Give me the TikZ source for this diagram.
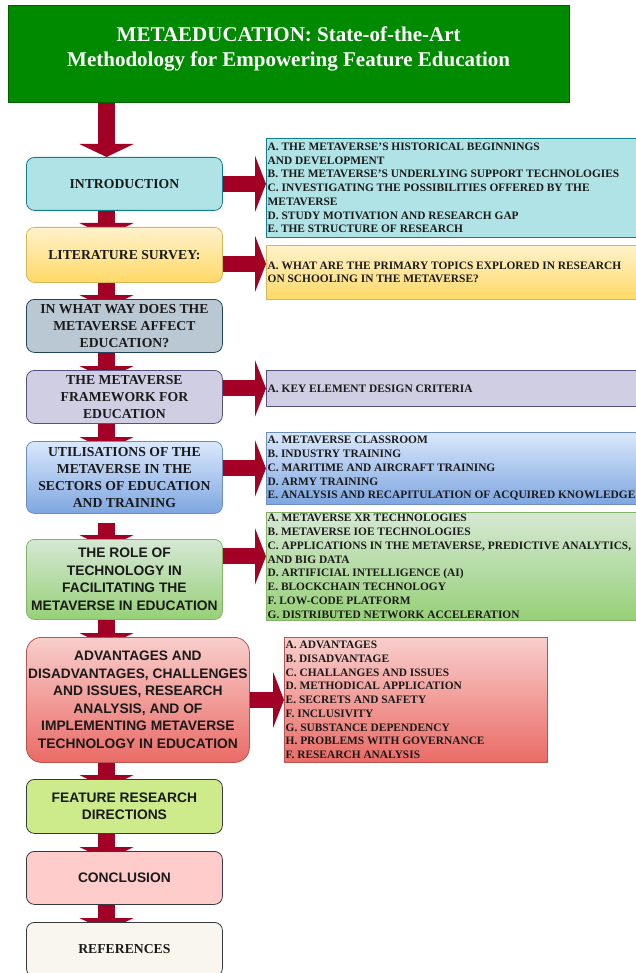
\documentclass[tikz,border=0pt]{standalone}
\usepackage{fontspec}
\setmainfont{Liberation Serif}
\newfontfamily\arialfont{Liberation Sans}
\usetikzlibrary{arrows.meta,backgrounds}

\definecolor{arrowred}{HTML}{A20025}
\definecolor{titlegreen}{HTML}{008A00}
\definecolor{textdark}{HTML}{1A1A1A}
\definecolor{introFill}{HTML}{B0E3E6}
\definecolor{introDraw}{HTML}{0E8088}
\definecolor{litTop}{HTML}{FFF2CC}
\definecolor{litBot}{HTML}{FFD966}
\definecolor{litDraw}{HTML}{D6B656}
\definecolor{wayFill}{HTML}{BAC8D3}
\definecolor{wayDraw}{HTML}{23445D}
\definecolor{frameFill}{HTML}{D0CEE2}
\definecolor{frameDraw}{HTML}{56517E}
\definecolor{utilTop}{HTML}{DAE8FC}
\definecolor{utilBot}{HTML}{7EA6E0}
\definecolor{utilDraw}{HTML}{6C8EBF}
\definecolor{roleTop}{HTML}{D5E8D4}
\definecolor{roleBot}{HTML}{97D077}
\definecolor{roleDraw}{HTML}{82B366}
\definecolor{advTop}{HTML}{F8CECC}
\definecolor{advBot}{HTML}{EA6B66}
\definecolor{advDraw}{HTML}{B85450}
\definecolor{featFill}{HTML}{CDEB8B}
\definecolor{greyDraw}{HTML}{36393D}
\definecolor{conclFill}{HTML}{FFCCCC}
\definecolor{refFill}{HTML}{F9F7ED}

\newcommand{\serifbox}{\bfseries\fontsize{13.7}{16.8}\selectfont}
\newcommand{\sansbox}{\arialfont\bfseries\fontsize{13.8}{17.5}\selectfont}
\newcommand{\detailfont}{\bfseries\fontsize{11.4}{13.75}\selectfont}

\tikzset{
  lbox/.style={draw, rounded corners=8pt, line width=0.8pt, anchor=north west,
    minimum width=196pt, align=center, inner sep=0pt, text=textdark},
  dbox/.style={draw, line width=0.8pt, anchor=north west, inner sep=0pt},
  dtext/.style={anchor=west, align=left, inner xsep=1.5pt, inner ysep=0pt,
    font=\detailfont, text=textdark},
  varrow/.style={draw=arrowred, line width=17pt,
    -{Triangle[width=54pt,length=13pt]}},
  varrowin/.style={varrow, shorten >=-9pt},
  harrow/.style={draw=arrowred, line width=16pt,
    -{Triangle[width=56pt,length=11pt]}},
}

\begin{document}
\begin{tikzpicture}[x=1pt,y=-1pt]
\useasboundingbox (0,0) rectangle (636,973);

% title banner
\node[draw=titlegreen!70!black, fill=titlegreen, anchor=north west,
  minimum width=561pt, minimum height=97pt, inner sep=0pt] (title) at (8,5) {};
\node[text=white, align=center, font=\bfseries\fontsize{21}{25}\selectfont]
  (titleT) at ([yshift=5pt]title.center)
  {METAEDUCATION: State-of-the-Art\\Methodology for Empowering Feature Education};

% main column of sections
\node[lbox, draw=introDraw, fill=introFill, minimum height=53pt, font=\serifbox]
  (intro) at (26,157) {INTRODUCTION};
\node[lbox, draw=litDraw, top color=litTop, bottom color=litBot, minimum height=55pt,
  font=\serifbox] (lit) at (26,227) {LITERATURE SURVEY:};
\node[lbox, draw=wayDraw, fill=wayFill, minimum height=53pt, font=\serifbox]
  (way) at (26,299) {IN WHAT WAY DOES THE\\METAVERSE AFFECT\\EDUCATION?};
\node[lbox, draw=frameDraw, fill=frameFill, minimum height=53pt, font=\serifbox]
  (frame) at (26,370) {THE METAVERSE\\FRAMEWORK FOR\\EDUCATION};
\node[lbox, draw=utilDraw, top color=utilTop, bottom color=utilBot,
  minimum height=72pt, font=\serifbox] (util) at (26,441)
  {UTILISATIONS OF THE\\METAVERSE IN THE\\SECTORS OF EDUCATION\\AND TRAINING};
\node[lbox, draw=roleDraw, top color=roleTop, bottom color=roleBot,
  minimum height=80pt, font=\sansbox] (role) at (26,539)
  {THE ROLE OF\\TECHNOLOGY IN\\FACILITATING THE\\METAVERSE IN EDUCATION};
\node[lbox, draw=advDraw, top color=advTop, bottom color=advBot, rounded corners=15pt,
  minimum width=223pt, minimum height=125pt, font=\sansbox] (adv) at (26,637)
  {{\serifbox ADVANTAGES AND}\\{\serifbox DISADVANTAGES,} CHALLENGES\\AND ISSUES, RESEARCH\\
   ANALYSIS, AND OF\\IMPLEMENTING METAVERSE\\TECHNOLOGY IN EDUCATION};
\node[lbox, draw=greyDraw, fill=featFill, minimum height=54pt, font=\sansbox]
  (feat) at (26,779) {FEATURE RESEARCH\\DIRECTIONS};
\node[lbox, draw=greyDraw, fill=conclFill, minimum height=53pt, font=\sansbox]
  (concl) at (26,851) {CONCLUSION};
\node[lbox, draw=greyDraw, fill=refFill, minimum height=54pt, font=\serifbox]
  (refs) at (26,922) {REFERENCES};

% detail boxes on the right
\node[dbox, draw=introDraw, fill=introFill, minimum width=369.5pt, minimum height=99pt]
  (introD) at (266,138) {};
\node[dtext] (introT) at (introD.west)
  {A. THE METAVERSE'S HISTORICAL BEGINNINGS\\AND DEVELOPMENT\\
   B. THE METAVERSE'S UNDERLYING SUPPORT TECHNOLOGIES\\
   C. INVESTIGATING THE POSSIBILITIES OFFERED BY THE\\METAVERSE\\
   D. STUDY MOTIVATION AND RESEARCH GAP\\E. THE STRUCTURE OF RESEARCH};

\node[dbox, draw=litDraw, top color=litTop, bottom color=litBot,
  minimum width=369.5pt, minimum height=54pt] (litD) at (266,245) {};
\node[dtext] (litT) at (litD.west)
  {A. WHAT ARE THE PRIMARY TOPICS EXPLORED IN RESEARCH\\
   ON SCHOOLING IN THE METAVERSE?};

\node[dbox, draw=frameDraw, fill=frameFill, minimum width=369.5pt, minimum height=36pt]
  (frameD) at (266,370) {};
\node[dtext] (frameT) at (frameD.west) {A. KEY ELEMENT DESIGN CRITERIA};

\node[dbox, draw=utilDraw, top color=utilTop, bottom color=utilBot,
  minimum width=369.5pt, minimum height=72pt] (utilD) at (266,432) {};
\node[dtext] (utilT) at (utilD.west)
  {A. METAVERSE CLASSROOM\\B. INDUSTRY TRAINING\\C. MARITIME AND AIRCRAFT TRAINING\\
   D. ARMY TRAINING\\E. ANALYSIS AND RECAPITULATION OF ACQUIRED KNOWLEDGE};

\node[dbox, draw=roleDraw, top color=roleTop, bottom color=roleBot,
  minimum width=369.5pt, minimum height=108pt] (roleD) at (266,512) {};
\node[dtext] (roleT) at (roleD.west)
  {A. METAVERSE XR TECHNOLOGIES\\B. METAVERSE IOE TECHNOLOGIES\\
   C. APPLICATIONS IN THE METAVERSE, PREDICTIVE ANALYTICS,\\AND BIG DATA\\
   D. ARTIFICIAL INTELLIGENCE (AI)\\E. BLOCKCHAIN TECHNOLOGY\\F. LOW-CODE PLATFORM\\
   G. DISTRIBUTED NETWORK ACCELERATION};

\node[dbox, draw=advDraw, top color=advTop, bottom color=advBot,
  minimum width=263pt, minimum height=125pt] (advD) at (284,637) {};
\node[dtext] (advT) at (advD.west)
  {A. ADVANTAGES\\B. DISADVANTAGE\\C. CHALLANGES AND ISSUES\\D. METHODICAL APPLICATION\\
   E. SECRETS AND SAFETY\\F. INCLUSIVITY\\G. SUBSTANCE DEPENDENCY\\
   H. PROBLEMS WITH GOVERNANCE\\F. RESEARCH ANALYSIS};

% connectors, kept behind the boxes
\coordinate (spine) at (106.5,0);
\coordinate (litA) at ([yshift=-9pt]lit.east);
\coordinate (roleA) at ([yshift=10pt]roleD.west);
\begin{pgfonlayer}{background}
  \fill[white] (0,0) rectangle (636,973);
  \draw[varrow] (spine |- title.south) -- (spine |- intro.north);
  \draw[varrowin] (spine |- intro.south) -- (spine |- lit.north);
  \draw[varrowin] (spine |- lit.south) -- (spine |- way.north);
  \draw[varrowin] (spine |- way.south) -- (spine |- frame.north);
  \draw[varrowin] (spine |- frame.south) -- (spine |- util.north);
  \draw[varrowin, shorten <=9pt] (spine |- util.south) -- (spine |- role.north);
  \draw[varrowin] (spine |- role.south) -- (spine |- adv.north);
  \draw[varrowin] (spine |- adv.south) -- (spine |- feat.north);
  \draw[varrowin] (spine |- feat.south) -- (spine |- concl.north);
  \draw[varrowin] (spine |- concl.south) -- (spine |- refs.north);

  \draw[harrow] (intro.east) -- (intro.east -| introD.west);
  \draw[harrow] (litA) -- (litA -| litD.west);
  \draw[harrow] (frame.east |- frameD.west) -- (frameD.west);
  \draw[harrow] (util.east |- utilD.west) -- (utilD.west);
  \draw[harrow] (role.east |- roleA) -- (roleA);
  \draw[harrow] (adv.east) -- (adv.east -| advD.west);
\end{pgfonlayer}
\end{tikzpicture}
\end{document}
